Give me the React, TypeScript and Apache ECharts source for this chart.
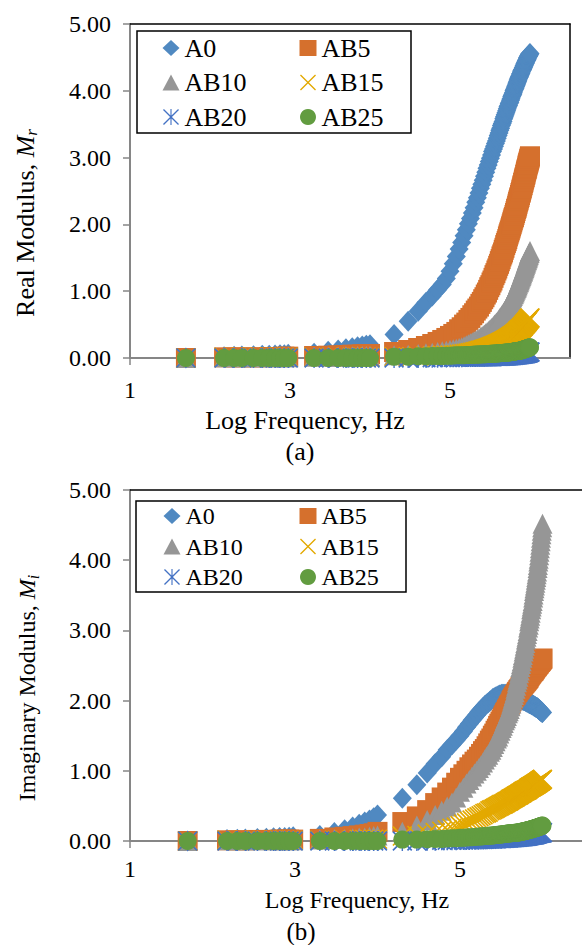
import React, { useEffect, useRef } from "react";
import * as echarts from "echarts";

// ---------- data ----------
// log10 of measurement frequency (Hz)
const logFreq = [
  1.699,
  2.176, 2.301, 2.398, 2.544, 2.653, 2.74, 2.813, 2.875, 2.929, 2.978,
  3.301, 3.477, 3.602, 3.699, 3.778, 3.845, 3.903, 3.954, 4.0,
  4.301, 4.477, 4.602, 4.699, 4.778, 4.845, 4.903, 4.954, 5.0, 5.041,
  5.079, 5.114, 5.146, 5.176, 5.204, 5.23, 5.255, 5.279, 5.301, 5.322,
  5.342, 5.362, 5.38, 5.398, 5.415, 5.431, 5.447, 5.462, 5.477, 5.491,
  5.505, 5.519, 5.531, 5.544, 5.556, 5.568, 5.58, 5.591, 5.602, 5.613,
  5.623, 5.633, 5.643, 5.653, 5.663, 5.672, 5.681, 5.69, 5.699, 5.708,
  5.716, 5.724, 5.732, 5.74, 5.748, 5.756, 5.763, 5.771, 5.778, 5.785,
  5.792, 5.799, 5.806, 5.813, 5.82, 5.826, 5.833, 5.839, 5.845, 5.851,
  5.857, 5.863, 5.869, 5.875, 5.881, 5.887, 5.892, 5.898, 5.903, 5.908,
  5.914, 5.919, 5.924, 5.929, 5.934, 5.94, 5.944, 5.949, 5.954, 5.959,
  5.964, 5.968, 5.973, 5.978, 5.982, 5.987, 5.991, 5.996, 6.0,
];

const seriesNames = ["A0", "AB5", "AB10", "AB15", "AB20", "AB25"];

// (a) Real modulus, Mr
const realA0 = [
  0.0,
  0.02, 0.025, 0.03, 0.035, 0.04, 0.04, 0.045, 0.05, 0.05, 0.055,
  0.07, 0.1, 0.12, 0.14, 0.155, 0.17, 0.18, 0.19, 0.2,
  0.35, 0.55, 0.7, 0.83, 0.93, 1.02, 1.1, 1.19, 1.3, 1.41,
  1.52, 1.63, 1.73, 1.83, 1.92, 2.01, 2.09, 2.17, 2.25, 2.33,
  2.4, 2.47, 2.54, 2.6, 2.66, 2.72, 2.78, 2.84, 2.89, 2.94,
  2.99, 3.04, 3.09, 3.13, 3.17, 3.21, 3.25, 3.29, 3.33, 3.37,
  3.41, 3.44, 3.48, 3.51, 3.54, 3.58, 3.61, 3.64, 3.67, 3.7,
  3.73, 3.76, 3.78, 3.81, 3.83, 3.86, 3.88, 3.91, 3.93, 3.95,
  3.97, 4.0, 4.02, 4.04, 4.06, 4.08, 4.1, 4.12, 4.14, 4.16,
  4.18, 4.2, 4.21, 4.23, 4.25, 4.26, 4.28, 4.3, 4.31, 4.32,
  4.34, 4.35, 4.37, 4.38, 4.4, 4.41, 4.42, 4.44, 4.45, 4.46,
  4.47, 4.49, 4.5, 4.51, 4.52, 4.53, 4.54, 4.55, 4.56,
];
const realAB5 = [
  0.0,
  0.01, 0.01, 0.01, 0.01, 0.01, 0.015, 0.015, 0.015, 0.02, 0.02,
  0.03, 0.035, 0.04, 0.045, 0.05, 0.05, 0.055, 0.06, 0.06,
  0.09, 0.12, 0.15, 0.18, 0.21, 0.24, 0.27, 0.3, 0.33, 0.36,
  0.39, 0.43, 0.46, 0.5, 0.53, 0.57, 0.6, 0.64, 0.67, 0.71,
  0.74, 0.77, 0.81, 0.84, 0.88, 0.91, 0.95, 0.98, 1.02, 1.06,
  1.09, 1.13, 1.16, 1.2, 1.24, 1.27, 1.31, 1.34, 1.38, 1.41,
  1.45, 1.48, 1.52, 1.55, 1.58, 1.62, 1.65, 1.69, 1.72, 1.75,
  1.78, 1.82, 1.85, 1.88, 1.91, 1.94, 1.97, 2.0, 2.03, 2.06,
  2.09, 2.11, 2.14, 2.17, 2.2, 2.23, 2.25, 2.28, 2.31, 2.34,
  2.36, 2.39, 2.41, 2.44, 2.47, 2.49, 2.52, 2.54, 2.57, 2.59,
  2.62, 2.64, 2.67, 2.69, 2.71, 2.74, 2.76, 2.79, 2.81, 2.83,
  2.85, 2.88, 2.9, 2.92, 2.94, 2.96, 2.98, 3.0, 3.02,
];
const realAB10 = [
  0.0,
  0.01, 0.01, 0.01, 0.01, 0.01, 0.01, 0.01, 0.01, 0.01, 0.01,
  0.02, 0.02, 0.02, 0.025, 0.025, 0.03, 0.03, 0.03, 0.03,
  0.04, 0.05, 0.06, 0.07, 0.08, 0.09, 0.1, 0.11, 0.12, 0.13,
  0.14, 0.15, 0.16, 0.175, 0.19, 0.205, 0.22, 0.235, 0.25, 0.26,
  0.28, 0.29, 0.31, 0.32, 0.34, 0.35, 0.37, 0.38, 0.4, 0.42,
  0.43, 0.45, 0.46, 0.48, 0.5, 0.51, 0.53, 0.54, 0.56, 0.58,
  0.6, 0.61, 0.63, 0.65, 0.66, 0.68, 0.7, 0.71, 0.73, 0.75,
  0.77, 0.78, 0.8, 0.82, 0.84, 0.86, 0.87, 0.89, 0.91, 0.93,
  0.95, 0.96, 0.98, 1.0, 1.02, 1.04, 1.05, 1.07, 1.09, 1.11,
  1.13, 1.14, 1.16, 1.18, 1.2, 1.22, 1.23, 1.25, 1.27, 1.29,
  1.3, 1.32, 1.34, 1.35, 1.37, 1.39, 1.41, 1.42, 1.44, 1.46,
  1.47, 1.49, 1.5, 1.52, 1.54, 1.55, 1.57, 1.58, 1.6,
];
const realAB15 = [
  0.0,
  0.01, 0.01, 0.01, 0.01, 0.01, 0.01, 0.01, 0.01, 0.01, 0.01,
  0.01, 0.01, 0.01, 0.01, 0.01, 0.01, 0.01, 0.01, 0.01,
  0.02, 0.02, 0.025, 0.03, 0.03, 0.035, 0.04, 0.04, 0.045, 0.048,
  0.05, 0.055, 0.06, 0.065, 0.07, 0.075, 0.08, 0.085, 0.09, 0.096,
  0.1, 0.11, 0.115, 0.12, 0.126, 0.13, 0.14, 0.145, 0.15, 0.156,
  0.16, 0.17, 0.175, 0.18, 0.186, 0.19, 0.2, 0.205, 0.21, 0.216,
  0.22, 0.23, 0.235, 0.24, 0.246, 0.25, 0.26, 0.265, 0.27, 0.276,
  0.28, 0.29, 0.295, 0.3, 0.306, 0.31, 0.32, 0.325, 0.33, 0.336,
  0.34, 0.35, 0.355, 0.36, 0.37, 0.375, 0.38, 0.39, 0.4, 0.405,
  0.41, 0.42, 0.425, 0.43, 0.435, 0.44, 0.45, 0.455, 0.46, 0.47,
  0.475, 0.48, 0.49, 0.5, 0.505, 0.51, 0.52, 0.525, 0.53, 0.54,
  0.545, 0.55, 0.56, 0.57, 0.575, 0.58, 0.59, 0.595, 0.6,
];
const realAB20 = [
  0.0,
  0.0, 0.0, 0.0, 0.0, 0.0, 0.0, 0.0, 0.0, 0.0, 0.0,
  0.0, 0.0, 0.0, 0.0, 0.0, 0.0, 0.0, 0.0, 0.0,
  0.0, 0.0, 0.0, 0.005, 0.005, 0.005, 0.01, 0.01, 0.01, 0.01,
  0.01, 0.012, 0.013, 0.014, 0.015, 0.015, 0.015, 0.015, 0.015, 0.016,
  0.017, 0.018, 0.019, 0.02, 0.02, 0.02, 0.02, 0.02, 0.02, 0.021,
  0.022, 0.023, 0.024, 0.025, 0.025, 0.025, 0.025, 0.025, 0.025, 0.026,
  0.027, 0.028, 0.029, 0.03, 0.03, 0.03, 0.03, 0.03, 0.03, 0.031,
  0.032, 0.033, 0.034, 0.035, 0.036, 0.037, 0.038, 0.039, 0.04, 0.041,
  0.042, 0.043, 0.044, 0.045, 0.046, 0.047, 0.048, 0.049, 0.05, 0.051,
  0.052, 0.053, 0.054, 0.055, 0.056, 0.057, 0.058, 0.059, 0.06, 0.061,
  0.062, 0.063, 0.064, 0.065, 0.066, 0.067, 0.068, 0.069, 0.07, 0.072,
  0.074, 0.076, 0.078, 0.08, 0.082, 0.084, 0.086, 0.088, 0.09,
];
const realAB25 = [
  0.0,
  0.0, 0.0, 0.0, 0.0, 0.0, 0.0, 0.0, 0.0, 0.0, 0.0,
  0.0, 0.0, 0.0, 0.0, 0.0, 0.0, 0.0, 0.0, 0.0,
  0.02, 0.02, 0.025, 0.025, 0.03, 0.03, 0.03, 0.035, 0.035, 0.038,
  0.04, 0.04, 0.04, 0.043, 0.045, 0.045, 0.045, 0.048, 0.05, 0.051,
  0.052, 0.053, 0.054, 0.055, 0.056, 0.057, 0.058, 0.059, 0.06, 0.061,
  0.062, 0.063, 0.064, 0.065, 0.066, 0.067, 0.068, 0.069, 0.07, 0.071,
  0.072, 0.073, 0.074, 0.075, 0.076, 0.077, 0.078, 0.079, 0.08, 0.081,
  0.082, 0.083, 0.084, 0.085, 0.086, 0.087, 0.088, 0.089, 0.09, 0.092,
  0.094, 0.096, 0.098, 0.1, 0.101, 0.102, 0.103, 0.104, 0.105, 0.106,
  0.107, 0.108, 0.109, 0.11, 0.112, 0.114, 0.116, 0.118, 0.12, 0.122,
  0.124, 0.126, 0.128, 0.13, 0.132, 0.134, 0.136, 0.138, 0.14, 0.142,
  0.144, 0.146, 0.148, 0.15, 0.152, 0.154, 0.156, 0.158, 0.16,
];

// (b) Imaginary modulus, Mi
const imagA0 = [
  0.0,
  0.02, 0.025, 0.03, 0.035, 0.04, 0.045, 0.05, 0.05, 0.055, 0.06,
  0.08, 0.12, 0.16, 0.2, 0.24, 0.27, 0.3, 0.33, 0.37,
  0.61, 0.8, 0.97, 1.1, 1.2, 1.3, 1.37, 1.44, 1.5, 1.56,
  1.62, 1.67, 1.72, 1.76, 1.8, 1.84, 1.87, 1.9, 1.93, 1.95,
  1.97, 1.99, 2.01, 2.03, 2.04, 2.05, 2.06, 2.07, 2.08, 2.08,
  2.09, 2.09, 2.09, 2.09, 2.09, 2.09, 2.09, 2.08, 2.08, 2.08,
  2.07, 2.07, 2.06, 2.06, 2.06, 2.05, 2.05, 2.04, 2.04, 2.04,
  2.03, 2.03, 2.02, 2.02, 2.02, 2.01, 2.01, 2.0, 2.0, 2.0,
  1.99, 1.99, 1.98, 1.98, 1.98, 1.97, 1.97, 1.96, 1.96, 1.96,
  1.95, 1.95, 1.94, 1.94, 1.94, 1.93, 1.93, 1.92, 1.92, 1.92,
  1.91, 1.91, 1.9, 1.9, 1.9, 1.89, 1.89, 1.88, 1.88, 1.87,
  1.87, 1.86, 1.86, 1.85, 1.85, 1.84, 1.84, 1.83, 1.83,
];
const imagAB5 = [
  0.0,
  0.01, 0.01, 0.01, 0.015, 0.015, 0.015, 0.02, 0.02, 0.02, 0.02,
  0.03, 0.05, 0.06, 0.07, 0.08, 0.09, 0.1, 0.11, 0.13,
  0.27, 0.35, 0.44, 0.54, 0.62, 0.69, 0.76, 0.83, 0.9, 0.95,
  1.0, 1.05, 1.09, 1.13, 1.16, 1.2, 1.24, 1.28, 1.31, 1.35,
  1.39, 1.43, 1.46, 1.5, 1.53, 1.57, 1.6, 1.64, 1.67, 1.7,
  1.73, 1.76, 1.79, 1.82, 1.84, 1.87, 1.89, 1.92, 1.94, 1.96,
  1.99, 2.01, 2.03, 2.05, 2.07, 2.08, 2.1, 2.12, 2.13, 2.15,
  2.16, 2.17, 2.19, 2.2, 2.21, 2.22, 2.23, 2.24, 2.25, 2.26,
  2.27, 2.28, 2.29, 2.3, 2.31, 2.32, 2.33, 2.35, 2.36, 2.37,
  2.38, 2.39, 2.4, 2.41, 2.42, 2.42, 2.43, 2.44, 2.45, 2.46,
  2.47, 2.48, 2.49, 2.49, 2.5, 2.51, 2.52, 2.52, 2.53, 2.54,
  2.55, 2.55, 2.56, 2.57, 2.57, 2.58, 2.59, 2.59, 2.6,
];
const imagAB10 = [
  0.0,
  0.01, 0.01, 0.01, 0.01, 0.01, 0.01, 0.01, 0.01, 0.01, 0.01,
  0.02, 0.03, 0.03, 0.04, 0.05, 0.05, 0.06, 0.07, 0.08,
  0.13, 0.22, 0.3, 0.37, 0.43, 0.49, 0.55, 0.62, 0.7, 0.76,
  0.82, 0.87, 0.92, 0.96, 1.0, 1.04, 1.08, 1.12, 1.16, 1.2,
  1.23, 1.27, 1.3, 1.34, 1.38, 1.42, 1.46, 1.49, 1.53, 1.57,
  1.61, 1.64, 1.68, 1.72, 1.75, 1.78, 1.82, 1.85, 1.88, 1.92,
  1.96, 2.0, 2.04, 2.08, 2.12, 2.17, 2.21, 2.26, 2.3, 2.34,
  2.39, 2.43, 2.48, 2.52, 2.56, 2.61, 2.65, 2.7, 2.74, 2.78,
  2.82, 2.87, 2.91, 2.95, 2.99, 3.04, 3.08, 3.13, 3.17, 3.21,
  3.25, 3.3, 3.34, 3.38, 3.42, 3.47, 3.51, 3.56, 3.6, 3.64,
  3.68, 3.72, 3.76, 3.8, 3.84, 3.89, 3.93, 3.98, 4.02, 4.07,
  4.12, 4.17, 4.22, 4.27, 4.32, 4.37, 4.42, 4.47, 4.52,
];
const imagAB15 = [
  0.0,
  0.01, 0.01, 0.01, 0.01, 0.01, 0.01, 0.01, 0.01, 0.01, 0.01,
  0.01, 0.01, 0.015, 0.015, 0.02, 0.02, 0.02, 0.025, 0.025,
  0.07, 0.08, 0.1, 0.12, 0.14, 0.16, 0.18, 0.2, 0.22, 0.24,
  0.26, 0.28, 0.3, 0.315, 0.33, 0.345, 0.36, 0.375, 0.39, 0.4,
  0.41, 0.43, 0.44, 0.45, 0.46, 0.47, 0.48, 0.49, 0.5, 0.51,
  0.52, 0.525, 0.53, 0.54, 0.55, 0.56, 0.565, 0.57, 0.58, 0.59,
  0.6, 0.605, 0.61, 0.62, 0.625, 0.63, 0.64, 0.645, 0.65, 0.655,
  0.66, 0.67, 0.675, 0.68, 0.685, 0.69, 0.7, 0.705, 0.71, 0.715,
  0.72, 0.72, 0.725, 0.73, 0.735, 0.74, 0.75, 0.755, 0.76, 0.765,
  0.77, 0.77, 0.775, 0.78, 0.785, 0.79, 0.79, 0.795, 0.8, 0.805,
  0.81, 0.81, 0.815, 0.82, 0.825, 0.83, 0.83, 0.835, 0.84, 0.845,
  0.85, 0.85, 0.855, 0.86, 0.865, 0.87, 0.87, 0.875, 0.88,
];
const imagAB20 = [
  0.0,
  0.0, 0.0, 0.0, 0.0, 0.0, 0.0, 0.0, 0.0, 0.0, 0.0,
  0.0, 0.0, 0.0, 0.0, 0.0, 0.0, 0.0, 0.0, 0.0,
  0.0, 0.0, 0.005, 0.005, 0.01, 0.01, 0.01, 0.01, 0.015, 0.015,
  0.015, 0.015, 0.02, 0.02, 0.02, 0.02, 0.02, 0.022, 0.025, 0.026,
  0.027, 0.028, 0.029, 0.03, 0.031, 0.032, 0.033, 0.034, 0.035, 0.036,
  0.037, 0.038, 0.039, 0.04, 0.041, 0.042, 0.043, 0.044, 0.045, 0.046,
  0.047, 0.048, 0.049, 0.05, 0.051, 0.052, 0.053, 0.054, 0.055, 0.056,
  0.057, 0.058, 0.059, 0.06, 0.061, 0.062, 0.063, 0.064, 0.065, 0.066,
  0.067, 0.068, 0.069, 0.07, 0.072, 0.074, 0.076, 0.078, 0.08, 0.081,
  0.082, 0.083, 0.084, 0.085, 0.086, 0.087, 0.088, 0.089, 0.09, 0.092,
  0.094, 0.096, 0.098, 0.1, 0.102, 0.104, 0.106, 0.108, 0.11, 0.111,
  0.112, 0.113, 0.114, 0.115, 0.116, 0.117, 0.118, 0.119, 0.12,
];
const imagAB25 = [
  0.0,
  0.0, 0.0, 0.0, 0.0, 0.0, 0.0, 0.0, 0.0, 0.0, 0.0,
  0.0, 0.0, 0.0, 0.0, 0.0, 0.0, 0.0, 0.0, 0.0,
  0.02, 0.02, 0.025, 0.03, 0.03, 0.035, 0.04, 0.04, 0.045, 0.048,
  0.05, 0.053, 0.055, 0.058, 0.06, 0.063, 0.065, 0.068, 0.07, 0.072,
  0.074, 0.076, 0.078, 0.08, 0.082, 0.084, 0.086, 0.088, 0.09, 0.092,
  0.094, 0.096, 0.098, 0.1, 0.102, 0.104, 0.106, 0.108, 0.11, 0.111,
  0.112, 0.113, 0.114, 0.115, 0.116, 0.117, 0.118, 0.119, 0.12, 0.122,
  0.124, 0.126, 0.128, 0.13, 0.132, 0.134, 0.136, 0.138, 0.14, 0.142,
  0.144, 0.146, 0.148, 0.15, 0.152, 0.154, 0.156, 0.158, 0.16, 0.162,
  0.164, 0.166, 0.168, 0.17, 0.172, 0.174, 0.176, 0.178, 0.18, 0.182,
  0.184, 0.186, 0.188, 0.19, 0.192, 0.194, 0.196, 0.198, 0.2, 0.202,
  0.204, 0.206, 0.208, 0.21, 0.212, 0.214, 0.216, 0.218, 0.22,
];

const realData = [realA0, realAB5, realAB10, realAB15, realAB20, realAB25];
const imagData = [imagA0, imagAB5, imagAB10, imagAB15, imagAB20, imagAB25];

const xTickValues = [1, 3, 5];
const xMin = 1;
const xMax = 6.5;
const yMin = 0;
const yMax = 5;
const yStep = 1;

// ---------- styles ----------
const FONT = "Liberation Serif";
const COLORS = ["#5089C1", "#D5702D", "#969696", "#E3A900", "#4472C4", "#629C40"];
const X_D =
  "M0,1.2L1.2,0L10,8.8L18.8,0L20,1.2L11.2,10L20,18.8L18.8,20L10,11.2L1.2,20L0,18.8L8.8,10Z";
const STAR_D = X_D + "M9.3,0L10.7,0L10.7,20L9.3,20Z";
const SYMBOLS = ["diamond", "rect", "triangle", "path://" + X_D, "path://" + STAR_D, "circle"];
const SIZES: any[] = [[19, 21], 20, [20, 20], 20, 20, 18];
const LEGEND_ICONS = ["diamond", "rect", "triangle", "path://" + X_D, "path://" + STAR_D, "circle"];

const AXIS_GRAY = "#868686";

function makeAxes(gi: number, labelMargin: number) {
  const xs = [
    {
      type: "value",
      gridIndex: gi,
      min: xMin,
      max: xMax,
      position: "bottom",
      axisLine: { onZero: false, lineStyle: { color: AXIS_GRAY, width: 2 } },
      axisTick: { show: true, length: 7, customValues: xTickValues, lineStyle: { color: AXIS_GRAY, width: 1.5 } },
      axisLabel: {
        customValues: xTickValues,
        margin: labelMargin,
        fontSize: 24,
        color: "#000",
        fontFamily: FONT,
      },
      splitLine: { show: false },
    },
    {
      type: "value",
      gridIndex: gi,
      min: xMin,
      max: xMax,
      position: "top",
      axisLine: { onZero: false, lineStyle: { color: "#000", width: 1.5 } },
      axisTick: { show: false },
      axisLabel: { show: false },
      splitLine: { show: false },
    },
  ];
  const ys = [
    {
      type: "value",
      gridIndex: gi,
      min: yMin,
      max: yMax,
      interval: yStep,
      position: "left",
      axisLine: { show: true, onZero: false, lineStyle: { color: AXIS_GRAY, width: 2 } },
      axisTick: { show: true, length: 7, lineStyle: { color: AXIS_GRAY, width: 1.5 } },
      axisLabel: {
        margin: 19,
        fontSize: 24,
        color: "#000",
        fontFamily: FONT,
        formatter: (v: number) => v.toFixed(2),
      },
      splitLine: { show: false },
    },
    {
      type: "value",
      gridIndex: gi,
      min: yMin,
      max: yMax,
      interval: yStep,
      position: "right",
      axisLine: { show: true, onZero: false, lineStyle: { color: "#000", width: 1.5 } },
      axisTick: { show: false },
      axisLabel: { show: false },
      splitLine: { show: false },
    },
  ];
  return { xs, ys };
}

function makeSeries(data: number[][], axisIdx: number) {
  return seriesNames.map((name, k) => ({
    type: "scatter",
    name,
    xAxisIndex: axisIdx,
    yAxisIndex: axisIdx,
    clip: false,
    large: false,
    symbol: SYMBOLS[k],
    symbolSize: SIZES[k],
    itemStyle: { color: COLORS[k], opacity: 1 },
    emphasis: { disabled: true },
    data: logFreq.map((x, i) => [x, data[k][i]]),
  }));
}

function makeLegend(names: number[], left: number, top: number, gap: number, fontSize: number) {
  return {
    orient: "vertical",
    left,
    top,
    padding: 0,
    itemGap: gap,
    itemWidth: 17,
    itemHeight: 16,
    selectedMode: false,
    textStyle: { fontFamily: FONT, fontSize, lineHeight: 26, color: "#000" },
    data: names.map((k) => ({ name: seriesNames[k], icon: LEGEND_ICONS[k] })),
  };
}

const CSS = `.mod-chart svg text { font-family: 'Liberation Serif', 'Times New Roman', serif !important; }`;

export default function App() {
  const ref = useRef<HTMLDivElement>(null);
  useEffect(() => {
    if (!ref.current) return;
    const chart = echarts.init(ref.current, undefined, { renderer: "svg" });
    const top = makeAxes(0, 20);
    const bot = makeAxes(1, 16);
    const option: any = {
      animation: false,
      backgroundColor: "#fff",
      textStyle: { fontFamily: FONT },
      grid: [
        { left: 130, top: 24, width: 440, height: 334 },
        { left: 130, top: 490, width: 453.75, height: 351 },
      ],
      xAxis: [...top.xs, ...bot.xs],
      yAxis: [...top.ys, ...bot.ys],
      legend: [
        makeLegend([0, 2, 4], 162.5, 35, 8.5, 26),
        makeLegend([1, 3, 5], 299.5, 35, 8.5, 26),
        makeLegend([0, 2, 4], 163.5, 503, 4.5, 24),
        makeLegend([1, 3, 5], 299.5, 503, 4.5, 24),
      ],
      series: [...makeSeries(realData, 0), ...makeSeries(imagData, 2)],
      graphic: [
        {
          type: "rect",
          shape: { x: 137, y: 31, width: 274, height: 102 },
          style: { fill: "none", stroke: "#000", lineWidth: 1.5 },
          z: 10,
        },
        {
          type: "rect",
          shape: { x: 136, y: 501, width: 270, height: 91 },
          style: { fill: "none", stroke: "#000", lineWidth: 1.5 },
          z: 10,
        },
        {
          type: "text",
          x: 305,
          y: 420.5,
          style: { text: "Log Frequency, Hz", fontFamily: FONT, fontSize: 26, fill: "#000", align: "center", verticalAlign: "middle" },
        },
        {
          type: "text",
          x: 300,
          y: 451,
          style: { text: "(a)", fontFamily: FONT, fontSize: 26, fill: "#000", align: "center", verticalAlign: "middle" },
        },
        {
          type: "text",
          x: 357,
          y: 900,
          style: { text: "Log Frequency, Hz", fontFamily: FONT, fontSize: 24, fill: "#000", align: "center", verticalAlign: "middle" },
        },
        {
          type: "text",
          x: 301,
          y: 931,
          style: { text: "(b)", fontFamily: FONT, fontSize: 25, fill: "#000", align: "center", verticalAlign: "middle" },
        },
        {
          type: "text",
          x: 25,
          y: 223,
          rotation: Math.PI / 2,
          style: {
            text: "{a|Real Modulus, }{b|M}{c|r}",
            align: "center",
            verticalAlign: "middle",
            fill: "#000",
            rich: {
              a: { fontFamily: FONT, fontSize: 26, lineHeight: 30 },
              b: { fontFamily: FONT, fontSize: 26, fontStyle: "italic", lineHeight: 30 },
              c: { fontFamily: FONT, fontSize: 17, fontStyle: "italic", lineHeight: 17, verticalAlign: "bottom" },
            },
          },
        },
        {
          type: "text",
          x: 27,
          y: 688,
          rotation: Math.PI / 2,
          style: {
            text: "{a|Imaginary Modulus, }{b|M}{c|i}",
            align: "center",
            verticalAlign: "middle",
            fill: "#000",
            rich: {
              a: { fontFamily: FONT, fontSize: 24, lineHeight: 28 },
              b: { fontFamily: FONT, fontSize: 24, fontStyle: "italic", lineHeight: 28 },
              c: { fontFamily: FONT, fontSize: 16, fontStyle: "italic", lineHeight: 16, verticalAlign: "bottom" },
            },
          },
        },
      ],
    };
    chart.setOption(option);
    return () => chart.dispose();
  }, []);
  return (
    <div
      style={{
        position: "fixed",
        left: 0,
        top: 0,
        width: 582,
        height: 945,
        overflow: "hidden",
        background: "#fff",
      }}
    >
      <style>{CSS}</style>
      <div ref={ref} className="mod-chart" style={{ width: 600, height: 945 }} />
    </div>
  );
}
